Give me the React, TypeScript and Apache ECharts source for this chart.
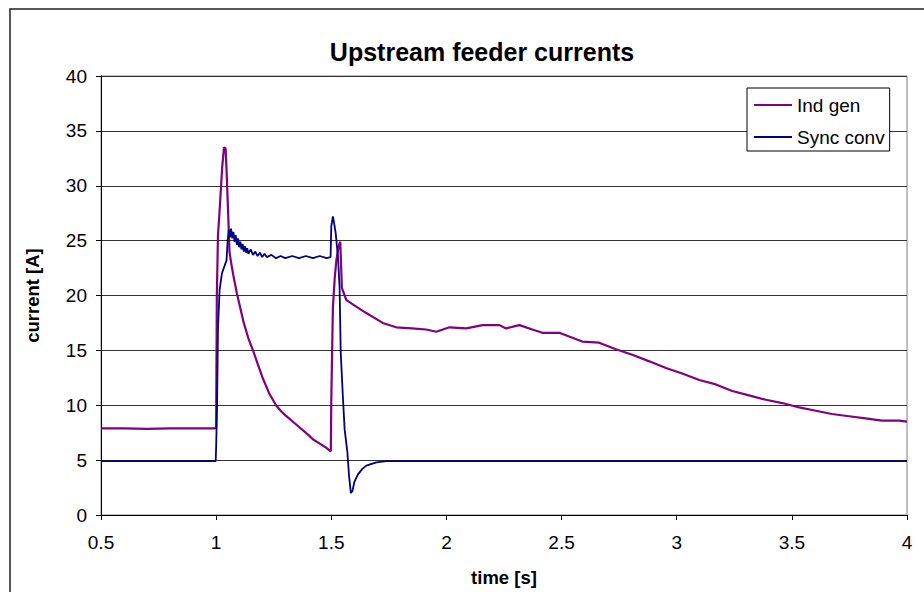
import React, { useEffect, useRef } from "react";
import * as echarts from "echarts";

const chartTitle = "Upstream feeder currents";
const xAxisName = "time [s]";
const yAxisName = "current [A]";
const seriesNames = ["Ind gen", "Sync conv"];

const indGenTime = [
  0.5, 0.6, 0.7, 0.8, 0.9, 0.995, 1.0, 1.003, 1.008, 1.015, 1.026, 1.034, 1.041, 1.045,
  1.052, 1.058, 1.065, 1.075, 1.09, 1.1, 1.12, 1.14, 1.16, 1.18, 1.2, 1.23, 1.26, 1.28,
  1.3, 1.35, 1.4, 1.42, 1.45, 1.48, 1.498, 1.5, 1.507, 1.515, 1.522, 1.532, 1.539, 1.546,
  1.565, 1.6, 1.652, 1.7, 1.723, 1.782, 1.85, 1.912, 1.956, 2.013, 2.086, 2.157, 2.23,
  2.259, 2.317, 2.373, 2.417, 2.49, 2.59, 2.663, 2.736, 2.807, 2.881, 2.953, 3.024, 3.098,
  3.17, 3.241, 3.314, 3.387, 3.458, 3.532, 3.604, 3.674, 3.748, 3.82, 3.891, 3.965, 4.0,
];
const indGenCurrent = [
  7.9, 7.9, 7.85, 7.9, 7.9, 7.9, 8.0, 20, 25.5, 27.7, 31.6, 33.5, 33.4, 31.5,
  27.6, 24.0, 23.0, 21.8, 20.2, 19.3, 17.5, 16.1, 15.0, 13.8, 12.6, 11.1, 10.0, 9.5,
  9.1, 8.2, 7.3, 6.9, 6.5, 6.1, 5.8, 10.4, 18.9, 21.6, 23.2, 24.5, 24.9, 20.7,
  19.6, 19.1, 18.4, 17.8, 17.5, 17.1, 17.0, 16.9, 16.7, 17.1, 17.0, 17.3, 17.3,
  17.0, 17.3, 16.9, 16.6, 16.6, 15.8, 15.7, 15.1, 14.6, 14.0, 13.4, 12.9, 12.3,
  11.9, 11.3, 10.9, 10.5, 10.2, 9.8, 9.5, 9.2, 9.0, 8.8, 8.6, 8.6, 8.5,
];

const syncTime = [
  0.5, 0.6, 0.7, 0.8, 0.9, 0.998, 1.0, 1.004, 1.008, 1.015, 1.025, 1.045, 1.05, 1.055,
  1.06, 1.065, 1.07, 1.075, 1.08, 1.085, 1.09, 1.095, 1.1, 1.105, 1.11, 1.115, 1.12, 1.125,
  1.13, 1.135, 1.14, 1.15, 1.16, 1.17, 1.18, 1.19, 1.2, 1.21, 1.22, 1.24, 1.26, 1.28,
  1.3, 1.33, 1.36, 1.39, 1.42, 1.45, 1.48, 1.497, 1.5, 1.507, 1.513, 1.519, 1.529, 1.536,
  1.541, 1.551, 1.558, 1.57, 1.577, 1.585, 1.592, 1.6, 1.616, 1.635, 1.652, 1.696, 1.739,
  2.0, 2.5, 3.0, 3.5, 4.0,
];
const syncCurrent = [
  4.9, 4.9, 4.9, 4.9, 4.9, 4.9, 6.2, 10, 17, 20.5, 22.0, 23.2, 25.0, 26.0,
  25.3, 26.1, 25.2, 25.8, 24.9, 25.5, 24.6, 25.2, 24.4, 24.9, 24.2, 24.7, 24.0, 24.5,
  23.9, 24.3, 23.8, 24.2, 23.7, 24.0, 23.6, 23.9, 23.5, 23.8, 23.5, 23.7, 23.4, 23.6,
  23.4, 23.6, 23.4, 23.6, 23.4, 23.6, 23.4, 23.5, 26.3, 27.2, 26.5, 25.7, 23.5, 20.8,
  14.8, 10.5, 7.8, 5.7, 3.6, 2.0, 2.2, 3.0, 3.7, 4.2, 4.5, 4.8, 4.9,
  4.9, 4.9, 4.9, 4.9, 4.9,
];

const yTicks = { min: 0, max: 40, interval: 5 };
const xTicks = { min: 0.5, max: 4, interval: 0.5 };

const FONT = "'Liberation Sans', Arial, sans-serif";

export default function App() {
  const ref = useRef<HTMLDivElement>(null);
  useEffect(() => {
    if (!ref.current) return;
    const chart = echarts.init(ref.current, null, { renderer: "svg" });
    const pair = (t: number[], v: number[]) => t.map((x, i) => [x, v[i]]);
    chart.setOption({
      animation: false,
      backgroundColor: "#fff",
      textStyle: { fontFamily: FONT },
      title: {
        text: chartTitle,
        left: 477,
        textAlign: "center",
        top: 34,
        textStyle: { fontFamily: FONT, fontSize: 25, fontWeight: "bold", color: "#000" },
      },
      graphic: [
        {
          type: "rect",
          shape: { x: 10, y: 9, width: 1000, height: 1000 },
          style: { fill: "none", stroke: "#222", lineWidth: 1.5 },
          silent: true,
        },
      ],
      legend: {
        orient: "vertical",
        left: 747,
        top: 88,
        padding: [7, 5, 4, 7],
        itemGap: 12,
        itemWidth: 38,
        itemHeight: 2,
        icon: "rect",
        backgroundColor: "#fff",
        borderColor: "#000",
        borderWidth: 1,
        textStyle: { fontFamily: FONT, fontSize: 19, color: "#000", lineHeight: 20 },
        data: seriesNames,
      },
      grid: {
        left: 101,
        right: 17,
        top: 76,
        bottom: 76,
        show: true,
        borderColor: "#808080",
        borderWidth: 1,
        backgroundColor: "#fff",
      },
      xAxis: {
        type: "value",
        min: xTicks.min,
        max: xTicks.max,
        interval: xTicks.interval,
        name: xAxisName,
        nameLocation: "middle",
        nameGap: 53,
        nameTextStyle: { fontFamily: FONT, fontSize: 18.5, fontWeight: "bold", color: "#000" },
        axisLine: { show: true, lineStyle: { color: "#000", width: 1 } },
        axisTick: { show: true, length: 5, lineStyle: { color: "#000" } },
        axisLabel: { fontFamily: FONT, fontSize: 19, color: "#000", margin: 18 },
        splitLine: { show: false },
      },
      yAxis: {
        type: "value",
        min: yTicks.min,
        max: yTicks.max,
        interval: yTicks.interval,
        name: yAxisName,
        nameLocation: "middle",
        nameGap: 59,
        nameTextStyle: { fontFamily: FONT, fontSize: 18.5, fontWeight: "bold", color: "#000" },
        axisLine: { show: true, lineStyle: { color: "#000", width: 1 } },
        axisTick: { show: true, length: 5, lineStyle: { color: "#000" } },
        axisLabel: { fontFamily: FONT, fontSize: 19, color: "#000", margin: 14 },
        splitLine: { show: true, lineStyle: { color: "#333", width: 1 } },
      },
      series: [
        {
          name: seriesNames[0],
          type: "line",
          data: pair(indGenTime, indGenCurrent),
          showSymbol: false,
          symbol: "none",
          color: "#800080",
          lineStyle: { color: "#800080", width: 2.2 },
          z: 3,
        },
        {
          name: seriesNames[1],
          type: "line",
          data: pair(syncTime, syncCurrent),
          showSymbol: false,
          symbol: "none",
          color: "#000080",
          lineStyle: { color: "#000080", width: 1.8 },
          z: 4,
        },
      ],
    });
    return () => chart.dispose();
  }, []);
  return (
    <div
      ref={ref}
      style={{ position: "fixed", left: 0, top: 0, width: 924, height: 592 }}
    />
  );
}
